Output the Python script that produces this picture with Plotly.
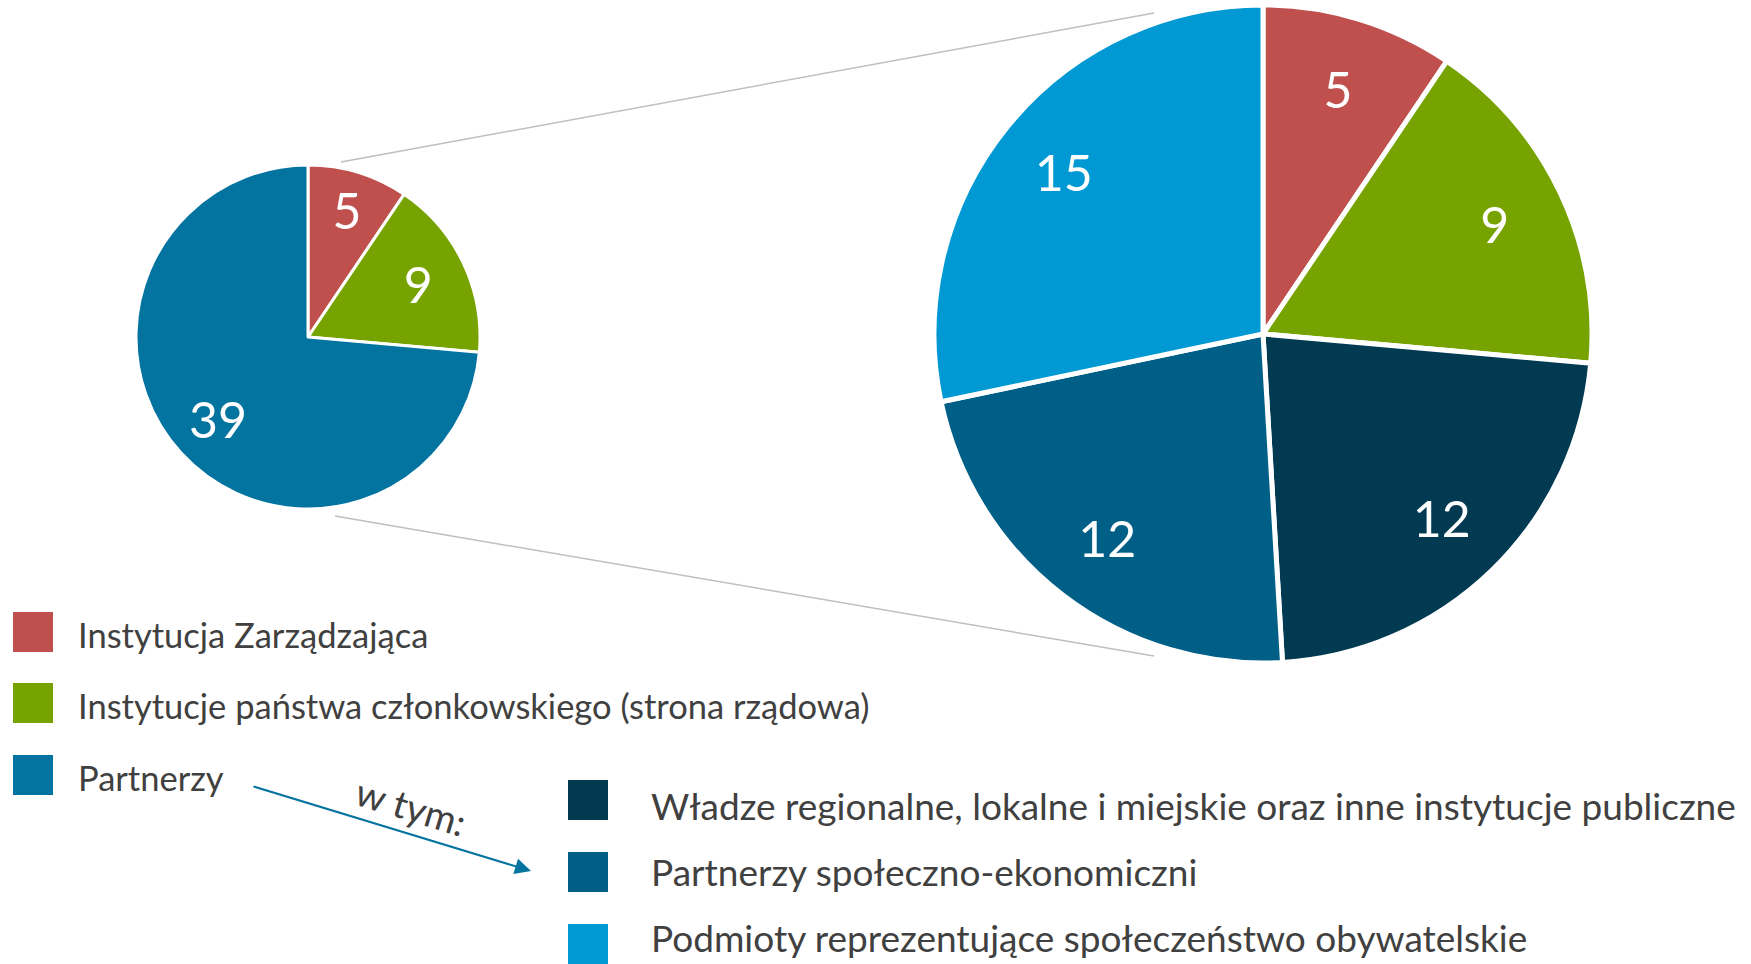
import plotly.graph_objects as go

W, H = 1751, 964

# ---- data ----
main_labels = ["Instytucja Zarządzająca",
               "Instytucje państwa członkowskiego (strona rządowa)",
               "Partnerzy"]
main_values = [5, 9, 39]
main_colors = ["#C0504D", "#76A300", "#0373A0"]

detail_labels = ["Instytucja Zarządzająca",
                 "Instytucje państwa członkowskiego (strona rządowa)",
                 "Władze regionalne, lokalne i miejskie oraz inne instytucje publiczne",
                 "Partnerzy społeczno-ekonomiczni",
                 "Podmioty reprezentujące społeczeństwo obywatelskie"]
detail_values = [5, 9, 12, 12, 15]
detail_colors = ["#C0504D", "#76A300", "#013A51", "#005F86", "#0099D3"]

sub_legend_labels = detail_labels[2:]
sub_legend_colors = detail_colors[2:]
arrow_text = "w tym:"

FONT = "Lato"
TEXT_COLOR = "#404040"


def px(x):
    return x / W


def py(y):
    return 1 - y / H


def dom(cx, cy, r):
    return dict(x=[px(cx - r), px(cx + r)], y=[py(cy + r), py(cy - r)])


SMALL = dom(308, 337, 172)
BIG = dom(1263, 334, 329)

fig = go.Figure()


def add_pie(labels, values, colors, domain, line_w, hole_for_text):
    # filled slices
    fig.add_trace(go.Pie(
        labels=labels, values=values, sort=False, direction="clockwise",
        rotation=0, domain=domain,
        marker=dict(colors=colors, line=dict(color="white", width=line_w)),
        textinfo="none", showlegend=False, hoverinfo="label+value",
    ))
    # transparent ring on top that carries the value labels (placed mid-ring)
    fig.add_trace(go.Pie(
        labels=labels, values=values, sort=False, direction="clockwise",
        rotation=0, domain=domain, hole=hole_for_text,
        marker=dict(colors=["rgba(0,0,0,0)"] * len(values), line=dict(width=0)),
        textinfo="value", textposition="inside", insidetextorientation="horizontal",
        textfont=dict(family=FONT, size=50, color="white"),
        showlegend=False, hoverinfo="skip",
    ))


add_pie(main_labels, main_values, main_colors, SMALL, 3, 0.42)
add_pie(detail_labels, detail_values, detail_colors, BIG, 5, 0.56)

shapes = []
annotations = []

# connector lines between pies
for (x0, y0, x1, y1) in [(341, 162, 1154, 13), (335, 516, 1154, 656)]:
    shapes.append(dict(type="line", xref="paper", yref="paper",
                       x0=px(x0), y0=py(y0), x1=px(x1), y1=py(y1),
                       line=dict(color="#BFBFBF", width=1.5)))

# legend (main)
SQ = 40
main_rows = [632, 703, 775]
main_text_y = [634, 705, 777]
for lab, col, yc, yt in zip(main_labels, main_colors, main_rows, main_text_y):
    shapes.append(dict(type="rect", xref="paper", yref="paper",
                       x0=px(13), x1=px(13 + SQ), y0=py(yc + SQ / 2), y1=py(yc - SQ / 2),
                       fillcolor=col, line=dict(width=0)))
    annotations.append(dict(text=lab, xref="paper", yref="paper", x=px(76), y=py(yt),
                            xanchor="left", yanchor="middle", showarrow=False,
                            font=dict(family=FONT, size=34.5, color=TEXT_COLOR)))

# legend (sub)
sub_rows = [800, 872, 944]
sub_text_y = [805, 871, 937]
for lab, col, yc, yt in zip(sub_legend_labels, sub_legend_colors, sub_rows, sub_text_y):
    shapes.append(dict(type="rect", xref="paper", yref="paper",
                       x0=px(568), x1=px(568 + SQ), y0=py(yc + SQ / 2), y1=py(yc - SQ / 2),
                       fillcolor=col, line=dict(width=0)))
    annotations.append(dict(text=lab, xref="paper", yref="paper", x=px(649), y=py(yt),
                            xanchor="left", yanchor="middle", showarrow=False,
                            font=dict(family=FONT, size=37, color=TEXT_COLOR)))

# arrow
annotations.append(dict(xref="paper", yref="paper", axref="pixel", ayref="pixel",
                        x=px(531), y=py(871), ax=252 - 531, ay=786 - 871,
                        text="", showarrow=True, arrowhead=2, arrowsize=1.6,
                        arrowwidth=2, arrowcolor="#0373A0"))
annotations.append(dict(text=arrow_text, xref="paper", yref="paper", x=px(411), y=py(806),
                        xanchor="center", yanchor="middle", showarrow=False, textangle=17,
                        font=dict(family=FONT, size=38, color=TEXT_COLOR)))

fig.update_layout(
    width=W, height=H, margin=dict(l=0, r=0, t=0, b=0),
    paper_bgcolor="white", plot_bgcolor="white",
    shapes=shapes, annotations=annotations, showlegend=False,
)

fig.write_html("out.html",
               config={"displayModeBar": False},
               post_script="document.body.style.margin='0px';"
                           "document.body.style.overflow='hidden';")
